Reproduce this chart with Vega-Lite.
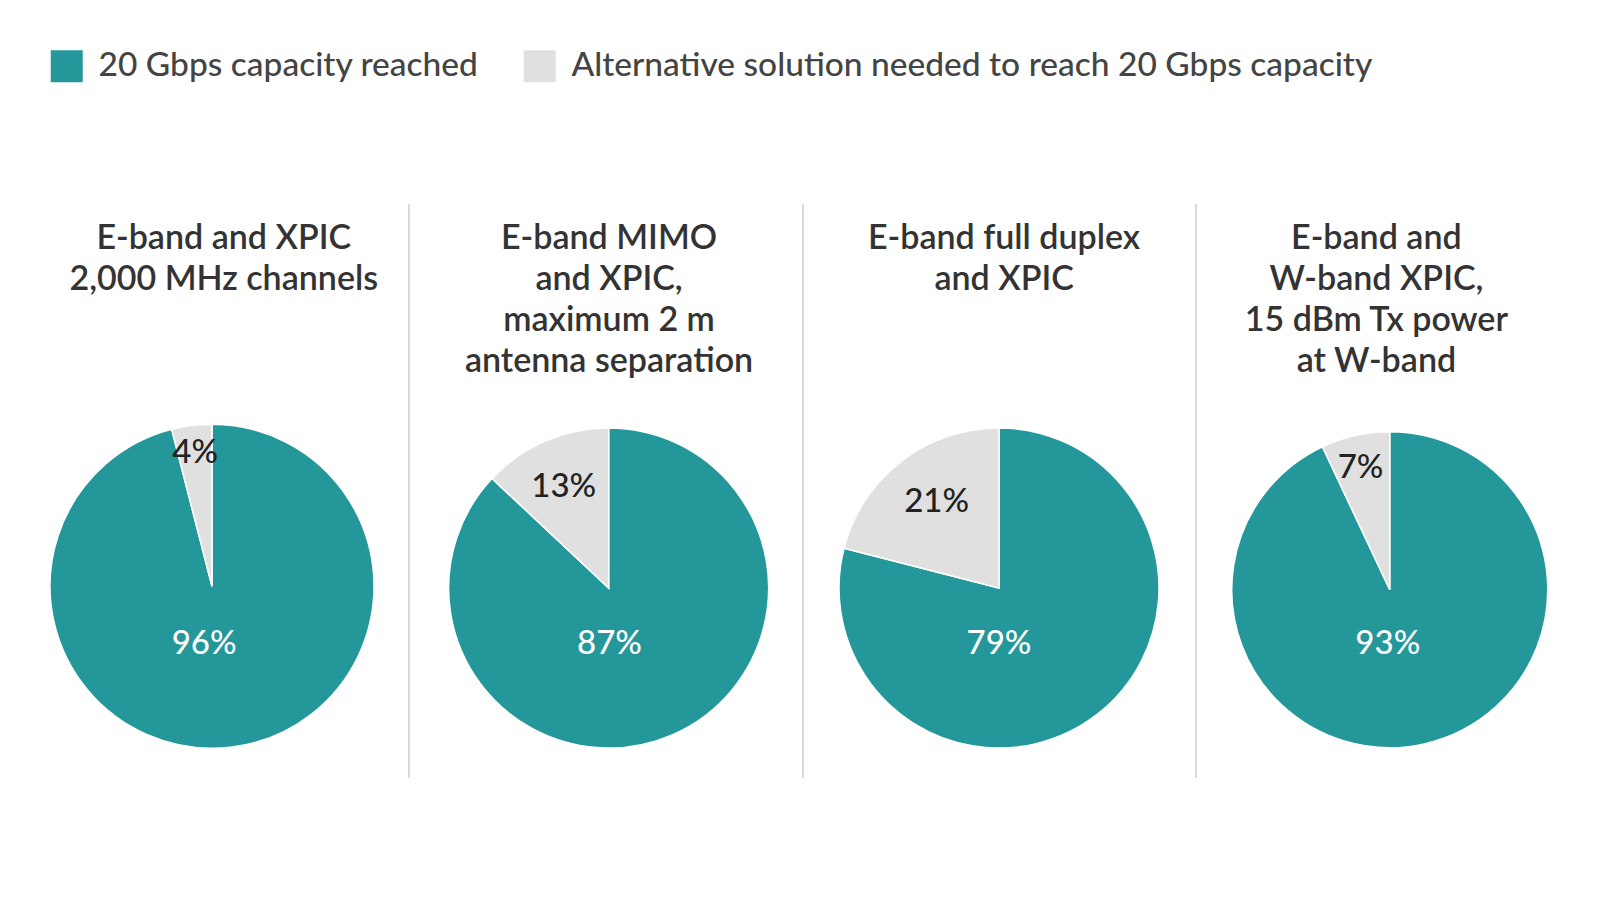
{
  "$schema": "https://vega.github.io/schema/vega-lite/v6.json",
  "background": "white",
  "padding": {"left": 16, "top": 49, "right": 14, "bottom": 120},
  "config": {
    "view": {"stroke": null},
    "concat": {"spacing": 0},
    "font": "Lato",
    "text": {"font": "Lato"}
  },
  "datasets": {
    "shares": [
      {"panel": "p1", "category": "20 Gbps capacity reached", "value": 0.96},
      {"panel": "p1", "category": "Alternative solution needed to reach 20 Gbps capacity", "value": 0.04},
      {"panel": "p2", "category": "20 Gbps capacity reached", "value": 0.87},
      {"panel": "p2", "category": "Alternative solution needed to reach 20 Gbps capacity", "value": 0.13},
      {"panel": "p3", "category": "20 Gbps capacity reached", "value": 0.79},
      {"panel": "p3", "category": "Alternative solution needed to reach 20 Gbps capacity", "value": 0.21},
      {"panel": "p4", "category": "20 Gbps capacity reached", "value": 0.93},
      {"panel": "p4", "category": "Alternative solution needed to reach 20 Gbps capacity", "value": 0.07}
    ],
    "titles": [
      {"panel": "p1", "title": "E-band and XPIC|2,000 MHz channels"},
      {"panel": "p2", "title": "E-band MIMO|and XPIC,|maximum 2 m|antenna separation"},
      {"panel": "p3", "title": "E-band full duplex|and XPIC"},
      {"panel": "p4", "title": "E-band and|W-band XPIC,|15 dBm Tx power|at W-band"}
    ]
  },
  "resolve": {"scale": {"color": "shared"}, "legend": {"color": "shared"}},
  "hconcat": [
    {
      "width": 392, "height": 574,
      "layer": [
        {
          "data": {"name": "shares"},
          "transform": [{"filter": "datum.panel === 'p1'"}],
          "mark": {"type": "arc", "outerRadius": 162, "stroke": "white", "strokeWidth": 1.5},
          "encoding": {
            "theta": {"field": "value", "type": "quantitative", "stack": true},
            "order": {"field": "category", "sort": "ascending"},
            "color": {"field": "category", "type": "nominal",
              "scale": {"domain": ["20 Gbps capacity reached", "Alternative solution needed to reach 20 Gbps capacity"], "range": ["#23979a", "#e0e0e0"]},
              "legend": {"orient": "none", "legendX": 34, "legendY": -155, "direction": "horizontal", "title": null, "symbolType": "square", "symbolSize": 1024, "symbolStrokeWidth": 0, "symbolOpacity": 1, "labelFontSize": 33.5, "labelFont": "Lato", "labelFontWeight": 500, "labelColor": "#444444", "labelOffset": 15, "columnPadding": 44, "labelLimit": 1200}},
            "x": {"datum": 0.5, "type": "quantitative", "scale": {"domain": [0, 1]}, "axis": null},
            "y": {"datum": 66.6, "type": "quantitative", "scale": {"domain": [0, 100], "reverse": true}, "axis": null}
          }
        },
        {
          "data": {"name": "shares"},
          "transform": [{"filter": "datum.panel === 'p1'"}],
          "mark": {"type": "text", "radius": 134, "fontSize": 33, "fontWeight": 500, "color": "#222222", "align": "center", "baseline": "middle"},
          "encoding": {
            "theta": {"field": "value", "type": "quantitative", "stack": true},
            "order": {"field": "category", "sort": "ascending"},
            "text": {"condition": {"test": "datum.category !== '20 Gbps capacity reached'", "field": "value", "type": "quantitative", "format": ".0%"}, "value": ""},
            "x": {"datum": 0.5, "type": "quantitative"},
            "y": {"datum": 66.6, "type": "quantitative"}
          }
        },
        {
          "data": {"name": "shares"},
          "transform": [{"filter": "datum.panel === 'p1' && datum.category === '20 Gbps capacity reached'"}],
          "mark": {"type": "text", "fontSize": 33, "fontWeight": 500, "color": "white", "align": "center", "baseline": "middle"},
          "encoding": {
            "text": {"field": "value", "type": "quantitative", "format": ".0%"},
            "x": {"datum": 0.48, "type": "quantitative"},
            "y": {"datum": 76.65, "type": "quantitative"}
          }
        },
        {
          "data": {"name": "titles"},
          "transform": [{"filter": "datum.panel === 'p1'"}],
          "mark": {"type": "text", "lineBreak": "|", "lineHeight": 41, "fontSize": 34, "letterSpacing": 0.3, "fontWeight": 600, "color": "#333333", "align": "center", "baseline": "alphabetic"},
          "encoding": {
            "text": {"field": "title"},
            "x": {"datum": 0.53, "type": "quantitative"},
            "y": {"datum": 7.8, "type": "quantitative"}
          }
        }
      ]
    },
    {
      "width": 393, "height": 574,
      "layer": [
        {
          "data": {"name": "titles"},
          "transform": [{"filter": "datum.panel === 'p2'"}],
          "mark": {"type": "rule", "color": "#b5b5b5", "strokeWidth": 1},
          "encoding": {
            "x": {"datum": 0, "type": "quantitative", "scale": {"domain": [0, 1]}, "axis": null}
          }
        },
        {
          "data": {"name": "shares"},
          "transform": [{"filter": "datum.panel === 'p2'"}],
          "mark": {"type": "arc", "outerRadius": 160, "stroke": "white", "strokeWidth": 1.5},
          "encoding": {
            "theta": {"field": "value", "type": "quantitative", "stack": true},
            "order": {"field": "category", "sort": "ascending"},
            "color": {"field": "category", "type": "nominal"},
            "x": {"datum": 0.508, "type": "quantitative"},
            "y": {"datum": 66.9, "type": "quantitative", "scale": {"domain": [0, 100], "reverse": true}, "axis": null}
          }
        },
        {
          "data": {"name": "shares"},
          "transform": [{"filter": "datum.panel === 'p2'"}],
          "mark": {"type": "text", "radius": 113, "fontSize": 33, "fontWeight": 500, "color": "#222222", "align": "center", "baseline": "middle"},
          "encoding": {
            "theta": {"field": "value", "type": "quantitative", "stack": true},
            "order": {"field": "category", "sort": "ascending"},
            "text": {"condition": {"test": "datum.category !== '20 Gbps capacity reached'", "field": "value", "type": "quantitative", "format": ".0%"}, "value": ""},
            "x": {"datum": 0.508, "type": "quantitative"},
            "y": {"datum": 67.3, "type": "quantitative"}
          }
        },
        {
          "data": {"name": "shares"},
          "transform": [{"filter": "datum.panel === 'p2' && datum.category === '20 Gbps capacity reached'"}],
          "mark": {"type": "text", "fontSize": 33, "fontWeight": 500, "color": "white", "align": "center", "baseline": "middle"},
          "encoding": {
            "text": {"field": "value", "type": "quantitative", "format": ".0%"},
            "x": {"datum": 0.51, "type": "quantitative"},
            "y": {"datum": 76.65, "type": "quantitative"}
          }
        },
        {
          "data": {"name": "titles"},
          "transform": [{"filter": "datum.panel === 'p2'"}],
          "mark": {"type": "text", "lineBreak": "|", "lineHeight": 41, "fontSize": 34, "letterSpacing": 0.3, "fontWeight": 600, "color": "#333333", "align": "center", "baseline": "alphabetic"},
          "encoding": {
            "text": {"field": "title"},
            "x": {"datum": 0.509, "type": "quantitative"},
            "y": {"datum": 7.8, "type": "quantitative"}
          }
        }
      ]
    },
    {
      "width": 392, "height": 574,
      "layer": [
        {
          "data": {"name": "titles"},
          "transform": [{"filter": "datum.panel === 'p3'"}],
          "mark": {"type": "rule", "color": "#b5b5b5", "strokeWidth": 1},
          "encoding": {
            "x": {"datum": 0, "type": "quantitative", "scale": {"domain": [0, 1]}, "axis": null}
          }
        },
        {
          "data": {"name": "shares"},
          "transform": [{"filter": "datum.panel === 'p3'"}],
          "mark": {"type": "arc", "outerRadius": 160, "stroke": "white", "strokeWidth": 1.5},
          "encoding": {
            "theta": {"field": "value", "type": "quantitative", "stack": true},
            "order": {"field": "category", "sort": "ascending"},
            "color": {"field": "category", "type": "nominal"},
            "x": {"datum": 0.5, "type": "quantitative"},
            "y": {"datum": 66.9, "type": "quantitative", "scale": {"domain": [0, 100], "reverse": true}, "axis": null}
          }
        },
        {
          "data": {"name": "shares"},
          "transform": [{"filter": "datum.panel === 'p3'"}],
          "mark": {"type": "text", "radius": 105, "fontSize": 33, "fontWeight": 500, "color": "#222222", "align": "center", "baseline": "middle"},
          "encoding": {
            "theta": {"field": "value", "type": "quantitative", "stack": true},
            "order": {"field": "category", "sort": "ascending"},
            "text": {"condition": {"test": "datum.category !== '20 Gbps capacity reached'", "field": "value", "type": "quantitative", "format": ".0%"}, "value": ""},
            "x": {"datum": 0.505, "type": "quantitative"},
            "y": {"datum": 66.3, "type": "quantitative"}
          }
        },
        {
          "data": {"name": "shares"},
          "transform": [{"filter": "datum.panel === 'p3' && datum.category === '20 Gbps capacity reached'"}],
          "mark": {"type": "text", "fontSize": 33, "fontWeight": 500, "color": "white", "align": "center", "baseline": "middle"},
          "encoding": {
            "text": {"field": "value", "type": "quantitative", "format": ".0%"},
            "x": {"datum": 0.5, "type": "quantitative"},
            "y": {"datum": 76.65, "type": "quantitative"}
          }
        },
        {
          "data": {"name": "titles"},
          "transform": [{"filter": "datum.panel === 'p3'"}],
          "mark": {"type": "text", "lineBreak": "|", "lineHeight": 41, "fontSize": 34, "letterSpacing": 0.3, "fontWeight": 600, "color": "#333333", "align": "center", "baseline": "alphabetic"},
          "encoding": {
            "text": {"field": "title"},
            "x": {"datum": 0.513, "type": "quantitative"},
            "y": {"datum": 7.8, "type": "quantitative"}
          }
        }
      ]
    },
    {
      "width": 393, "height": 574,
      "layer": [
        {
          "data": {"name": "titles"},
          "transform": [{"filter": "datum.panel === 'p4'"}],
          "mark": {"type": "rule", "color": "#b5b5b5", "strokeWidth": 1},
          "encoding": {
            "x": {"datum": 0, "type": "quantitative", "scale": {"domain": [0, 1]}, "axis": null}
          }
        },
        {
          "data": {"name": "shares"},
          "transform": [{"filter": "datum.panel === 'p4'"}],
          "mark": {"type": "arc", "outerRadius": 158, "stroke": "white", "strokeWidth": 1.5},
          "encoding": {
            "theta": {"field": "value", "type": "quantitative", "stack": true},
            "order": {"field": "category", "sort": "ascending"},
            "color": {"field": "category", "type": "nominal"},
            "x": {"datum": 0.493, "type": "quantitative"},
            "y": {"datum": 67.2, "type": "quantitative", "scale": {"domain": [0, 100], "reverse": true}, "axis": null}
          }
        },
        {
          "data": {"name": "shares"},
          "transform": [{"filter": "datum.panel === 'p4'"}],
          "mark": {"type": "text", "radius": 125, "fontSize": 33, "fontWeight": 500, "color": "#222222", "align": "center", "baseline": "middle"},
          "encoding": {
            "theta": {"field": "value", "type": "quantitative", "stack": true},
            "order": {"field": "category", "sort": "ascending"},
            "text": {"condition": {"test": "datum.category !== '20 Gbps capacity reached'", "field": "value", "type": "quantitative", "format": ".0%"}, "value": ""},
            "x": {"datum": 0.488, "type": "quantitative"},
            "y": {"datum": 67.2, "type": "quantitative"}
          }
        },
        {
          "data": {"name": "shares"},
          "transform": [{"filter": "datum.panel === 'p4' && datum.category === '20 Gbps capacity reached'"}],
          "mark": {"type": "text", "fontSize": 33, "fontWeight": 500, "color": "white", "align": "center", "baseline": "middle"},
          "encoding": {
            "text": {"field": "value", "type": "quantitative", "format": ".0%"},
            "x": {"datum": 0.488, "type": "quantitative"},
            "y": {"datum": 76.65, "type": "quantitative"}
          }
        },
        {
          "data": {"name": "titles"},
          "transform": [{"filter": "datum.panel === 'p4'"}],
          "mark": {"type": "text", "lineBreak": "|", "lineHeight": 41, "fontSize": 34, "letterSpacing": 0.3, "fontWeight": 600, "color": "#333333", "align": "center", "baseline": "alphabetic"},
          "encoding": {
            "text": {"field": "title"},
            "x": {"datum": 0.459, "type": "quantitative"},
            "y": {"datum": 7.8, "type": "quantitative"}
          }
        }
      ]
    }
  ]
}
